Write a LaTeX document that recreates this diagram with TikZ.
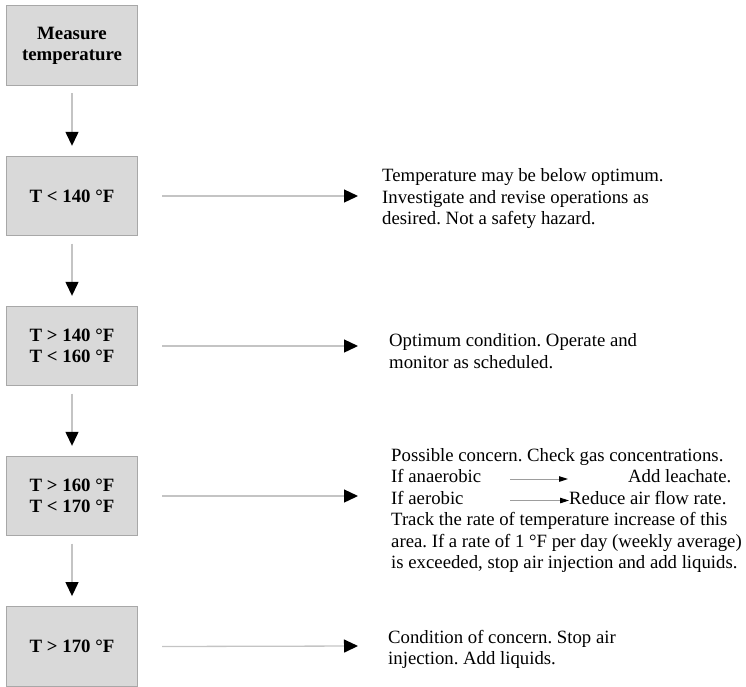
\documentclass[tikz,border=0pt]{standalone}
\usepackage{fontspec}
\setmainfont{Liberation Serif}
\usetikzlibrary{arrows.meta}
\definecolor{boxfill}{HTML}{D9D9D9}
\definecolor{boxline}{HTML}{A8A8A8}
\definecolor{connline}{HTML}{C4C4C4}
\frenchspacing
\begin{document}
\begin{tikzpicture}[x=1pt,y=-1pt,
  box/.style={draw=boxline, fill=boxfill, line width=0.9pt, minimum width=131.5pt, minimum height=79.5pt, inner sep=0pt, align=center, font=\fontsize{18.8}{21.3}\selectfont\bfseries},
  conn/.style={draw=connline, line width=1.3pt, -{Triangle[length=14pt,width=13pt,color=black]}},
  smallconn/.style={draw=connline!80!black, line width=1pt, -{Triangle[length=9pt,width=5.5pt,color=black]}},
  txt/.style={anchor=base west, inner sep=0pt, align=left, font=\fontsize{18.75}{21.3}\selectfont},
]
\useasboundingbox (0,0) rectangle (746,686);

% boxes
\node[box] (b1) at (72,45.5) {Measure\\temperature};
\node[box] (b2) at (72,196) {T < 140 °F};
\node[box] (b3) at (72,346) {T > 140 °F\\T < 160 °F};
\node[box] (b4) at (72,496) {T > 160 °F\\T < 170 °F};
\node[box, minimum height=80pt] (b5) at (72,646.5) {T > 170 °F};

% vertical connectors
\draw[conn] ([yshift=-7.5pt]b1.south) -- ([yshift=10pt]b2.north);
\draw[conn] ([yshift=-7.5pt]b2.south) -- ([yshift=10pt]b3.north);
\draw[conn] ([yshift=-7.5pt]b3.south) -- ([yshift=10pt]b4.north);
\draw[conn] ([yshift=-7.5pt]b4.south) -- ([yshift=10pt]b5.north);

% texts (base anchor = baseline of last line)
\node[txt] (t1) at (382,224.5) {Temperature may be below optimum.\\Investigate and revise operations as\\desired. Not a safety hazard.};
\node[txt] (t2) at (389,368) {Optimum condition. Operate and\\monitor as scheduled.};
\node[txt] (t3a) at (391,461) {Possible concern. Check gas concentrations.};
\node[txt] (t3b) at (391,482.5) {If anaerobic};
\node[txt] (t3c) at (628,482.5) {Add leachate.};
\node[txt] (t3d) at (391,504) {If aerobic};
\node[txt] (t3e) at (569,504) {Reduce air flow rate.};
\node[txt] (t3f) at (391,525.5) {Track the rate of temperature increase of this};
\node[txt] (t3g) at (391,547) {area. If a rate of 1 °F per day (weekly average)};
\node[txt] (t3h) at (391,568.5) {is exceeded, stop air injection and add liquids.};
\node[txt] (t4) at (388,664.5) {Condition of concern. Stop air\\injection. Add liquids.};

% horizontal connectors
\coordinate (e2) at (358,196);
\coordinate (e3) at (358,346);
\coordinate (e4) at (358,496);
\coordinate (e5) at (358,646);
\draw[conn] ([xshift=24pt]b2.east) -- (e2);
\draw[conn] ([xshift=24pt]b3.east) -- (e3);
\draw[conn] ([xshift=24pt]b4.east) -- (e4);
\draw[conn] ([xshift=24pt]b5.east) -- (e5);

% small connectors in text 3
\coordinate (s1) at (510,479);
\coordinate (s1e) at (568,479);
\coordinate (s2) at (510,500.5);
\draw[smallconn] (s1) -- (s1e);
\draw[smallconn] (s2) -- (t3e.west |- s2);
\end{tikzpicture}
\end{document}
